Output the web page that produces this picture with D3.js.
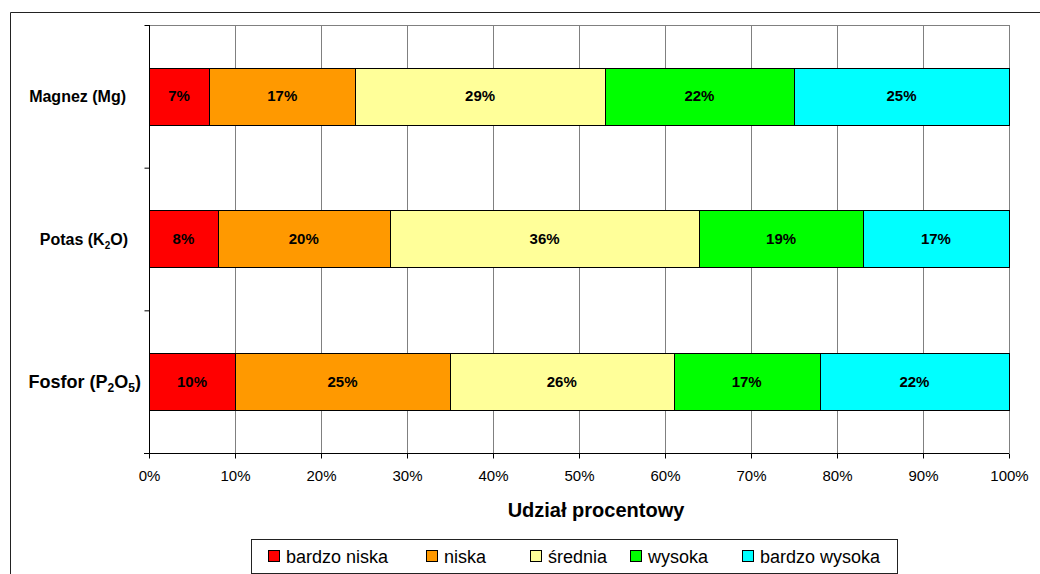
<!DOCTYPE html>
<html>
<head>
<meta charset="utf-8">
<script src="https://cdn.jsdelivr.net/npm/d3@7"></script>
<style>
  body { margin: 0; background: #fff; }
  svg text { font-family: "Liberation Sans", Arial, sans-serif; }
</style>
</head>
<body>
<script>
'use strict';

// chart values
const categories = ["Magnez (Mg)", "Potas (K2O)", "Fosfor (P2O5)"];
const classes = ["bardzo niska", "niska", "średnia", "wysoka", "bardzo wysoka"];
const magnezValues = [7, 17, 29, 22, 25];
const potasValues = [8, 20, 36, 19, 17];
const fosforValues = [10, 25, 26, 17, 22];
const xTicks = [0, 10, 20, 30, 40, 50, 60, 70, 80, 90, 100];
const xTitle = "Udział procentowy";

const colors = ["#ff0000", "#ff9900", "#ffff99", "#00ff00", "#00ffff"];
const values = [magnezValues, potasValues, fosforValues];

(function() {
  const W = 1040, H = 574;
  const left = 149, right = 1009, top = 25, bottom = 453;

  const svg = d3.select('body')
    .append('svg')
    .attr('width', W)
    .attr('height', H);

  // outer frame (cut off at right and bottom)
  svg.append('path')
    .attr('d', 'M10.5,' + H + 'V12.5H' + W)
    .attr('fill', 'none')
    .attr('stroke', '#222')
    .attr('stroke-width', 1);

  const x = d3.scaleLinear().domain([0, 100]).range([left, right]);
  const y = d3.scaleBand().domain(categories).range([top, bottom])
    .paddingInner(0.6).paddingOuter(0.3);

  // plot area top border
  svg.append('line')
    .attr('x1', left).attr('x2', right)
    .attr('y1', top + 0.5).attr('y2', top + 0.5)
    .attr('stroke', '#808080');

  // vertical gridlines
  svg.append('g')
    .selectAll('line')
    .data(xTicks.slice(1))
    .enter()
    .append('line')
      .attr('x1', d => Math.round(x(d)) + 0.5)
      .attr('x2', d => Math.round(x(d)) + 0.5)
      .attr('y1', top)
      .attr('y2', bottom)
      .attr('stroke', '#808080');

  // stacked bars
  categories.forEach((cat, i) => {
    let acc = 0;
    const segs = values[i].map((v, j) => {
      const s = {start: acc, value: v, color: colors[j]};
      acc += v;
      return s;
    });
    const g = svg.append('g');
    g.selectAll('rect')
      .data(segs)
      .enter()
      .append('rect')
        .attr('x', d => Math.round(x(d.start)) + 0.5)
        .attr('y', Math.round(y(cat)) + 0.5)
        .attr('width', d => Math.round(x(d.start + d.value)) - Math.round(x(d.start)))
        .attr('height', Math.round(y.bandwidth()))
        .attr('fill', d => d.color)
        .attr('stroke', '#000')
        .attr('stroke-width', 1);
    g.selectAll('text')
      .data(segs)
      .enter()
      .append('text')
        .attr('x', d => x(d.start + d.value / 2))
        .attr('y', y(cat) + y.bandwidth() / 2 + 1)
        .attr('text-anchor', 'middle')
        .attr('dominant-baseline', 'middle')
        .style('font-size', '15px')
        .style('font-weight', 'bold')
        .text(d => d.value + '%');
  });

  // x axis
  const xAxis = d3.axisBottom(x)
    .tickValues(xTicks)
    .tickSize(5)
    .tickFormat(d => d + '%');
  const gx = svg.append('g')
    .attr('transform', 'translate(0,' + (bottom + 0.5) + ')')
    .call(xAxis);
  gx.select('.domain').attr('d', 'M' + (left - 5) + ',0H' + right).attr('stroke', '#000');
  gx.selectAll('.tick line').attr('stroke', '#000');
  gx.selectAll('.tick text')
    .attr('y', 17)
    .style('font-size', '15px')
    .style('font-family', '"Liberation Sans", Arial, sans-serif')
    .attr('fill', '#000');

  // category axis: line with ticks between the bands
  const yb = d3.scaleLinear().domain([0, categories.length]).range([top, bottom]);
  const gy = svg.append('g')
    .attr('transform', 'translate(' + (left + 0.5) + ',0)')
    .call(d3.axisLeft(yb).tickValues(d3.range(categories.length + 1)).tickSize(5).tickFormat(''));
  gy.select('.domain').attr('d', 'M0,' + top + 'V' + (bottom + 5)).attr('stroke', '#000');
  gy.selectAll('.tick line').attr('stroke', '#000');

  // category labels with subscripts
  const labelSize = {"Magnez (Mg)": 16, "Potas (K2O)": 16, "Fosfor (P2O5)": 18};
  const labelRight = {"Magnez (Mg)": 126, "Potas (K2O)": 128, "Fosfor (P2O5)": 141};
  categories.forEach(cat => {
    const fs = labelSize[cat];
    const t = svg.append('text')
      .attr('x', labelRight[cat])
      .attr('y', y(cat) + y.bandwidth() / 2 + fs * 0.35)
      .attr('text-anchor', 'end')
      .style('font-size', fs + 'px')
      .style('font-weight', 'bold');
    const parts = cat.match(/\d+|[^\d]+/g);
    parts.forEach(p => {
      const isSub = /^\d+$/.test(p);
      const ts = t.append('tspan').text(p);
      if (isSub) {
        ts.style('font-size', Math.round(fs * 0.65) + 'px').attr('dy', fs * 0.25);
      } else if (t.selectAll('tspan').size() > 1) {
        ts.attr('dy', -fs * 0.25);
      }
    });
  });

  // axis title
  svg.append('text')
    .attr('x', 596)
    .attr('y', 517)
    .attr('text-anchor', 'middle')
    .style('font-size', '20px')
    .style('font-weight', 'bold')
    .text(xTitle);

  // legend
  const legend = svg.append('g');
  legend.append('rect')
    .attr('x', 251.5).attr('y', 539.5)
    .attr('width', 646).attr('height', 34)
    .attr('fill', '#fff')
    .attr('stroke', '#222');
  const legendX = [268, 426, 530, 630, 742];
  const items = legend.selectAll('g.item')
    .data(classes)
    .enter()
    .append('g')
      .attr('class', 'item')
      .attr('transform', (d, i) => 'translate(' + legendX[i] + ',0)');
  items.append('rect')
    .attr('x', 0.5).attr('y', 550.5)
    .attr('width', 11).attr('height', 11)
    .attr('fill', (d, i) => colors[i])
    .attr('stroke', '#000');
  items.append('text')
    .attr('x', 18)
    .attr('y', 563)
    .style('font-size', '18px')
    .text(d => d);
})();
</script>
</body>
</html>
